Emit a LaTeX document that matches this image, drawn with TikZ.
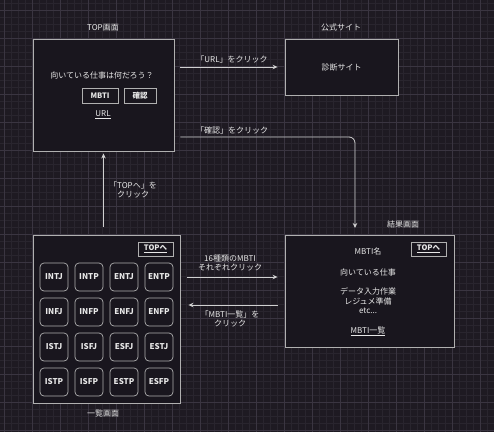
\documentclass[tikz,border=0pt]{standalone}
\usepackage{fontspec}
\setmainfont{Noto Sans CJK JP}
\usetikzlibrary{arrows.meta}
\definecolor{bgc}{HTML}{1E1A22}
\definecolor{minorc}{HTML}{29252E}
\definecolor{majorc}{HTML}{3A3541}
\definecolor{boxfill}{HTML}{19161E}
\definecolor{boxline}{HTML}{B0B0B0}
\definecolor{txt}{HTML}{E8E8E8}
\definecolor{connc}{HTML}{D0D0D0}
\begin{document}
\begin{tikzpicture}[x=1pt,y=-1pt,
  boxstyle/.style={draw=boxline, fill=boxfill, line width=0.9pt, inner sep=0pt},
  cellstyle/.style={draw=boxline, line width=0.7pt, rounded corners=4pt, minimum width=28pt, minimum height=28pt, inner sep=0pt, text=txt, font=\fontsize{8}{9.5}\selectfont\bfseries},
  btnstyle/.style={draw=boxline, line width=0.8pt, minimum height=14pt, inner sep=0pt, text=txt, font=\fontsize{7.5}{9}\selectfont\bfseries},
  lbl/.style={text=txt, inner sep=0pt, align=center, font=\fontsize{8}{9.6}\selectfont},
  conn/.style={draw=connc, line width=0.8pt, -{Stealth[length=5pt,width=4.5pt]}}
]
\useasboundingbox (0,0) rectangle (494,432);
\fill[bgc] (0,0) rectangle (494,432);
\foreach \x in {4,11,...,494} \draw[minorc, line width=0.4pt] (\x,0) -- (\x,432);
\foreach \y in {3,10,...,432} \draw[minorc, line width=0.4pt] (0,\y) -- (494,\y);
\foreach \x in {4,32,...,494} \draw[majorc, line width=0.5pt] (\x,0) -- (\x,432);
\foreach \y in {10,38,...,432} \draw[majorc, line width=0.5pt] (0,\y) -- (494,\y);

% boxes
\node[boxstyle, minimum width=141pt, minimum height=112pt] (top) at (103.5,95) {};
\node[boxstyle, minimum width=113pt, minimum height=56pt] (site) at (341.5,67) {};
\node[boxstyle, minimum width=169pt, minimum height=112pt] (result) at (369.5,291) {};
\node[boxstyle, minimum width=147pt, minimum height=168pt] (list) at (106.5,319) {};

% titles
\node[lbl] (ttop) at (103,28) {TOP画面};
\node[lbl] (tsite) at (341,27) {公式サイト};
\node[lbl] (tresult) at (403,224) {結果画面};
\node[lbl] (tlist) at (103,413) {一覧画面};

% top contents
\node[lbl] (q) at (102,75) {向いている仕事は何だろう？};
\node[btnstyle, minimum width=36pt, minimum height=15pt] (bmbti) at (100,95.5) {MBTI};
\node[btnstyle, minimum width=32pt, minimum height=15pt] (bkakunin) at (140,95.5) {確認};
\node[lbl] (url) at (103,115) {\underline{URL}};

% site contents
\node[lbl] (shindan) at (341.5,67) {診断サイト};

% result contents
\node[lbl] (mname) at (368,251) {MBTI名};
\node[btnstyle, minimum width=35pt] (rtop) at (428.5,249) {\underline{TOPへ}};
\node[lbl] (job) at (368,272) {向いている仕事};
\node[lbl] (jobs) at (368,301) {データ入力作業\\レジュメ準備\\etc...};
\node[lbl] (mlist) at (368,331) {\underline{MBTI一覧}};

% list contents
\node[btnstyle, minimum width=35pt] (ltop) at (155.5,249) {\underline{TOPへ}};
\foreach \t [count=\i from 0] in {INTJ,INTP,ENTJ,ENTP,INFJ,INFP,ENFJ,ENFP,ISTJ,ISFJ,ESFJ,ESTJ,ISTP,ISFP,ESTP,ESFP}{
  \pgfmathtruncatemacro{\c}{mod(\i,4)}
  \pgfmathtruncatemacro{\r}{div(\i,4)}
  \node[cellstyle] (cell\i) at (54+35*\c, 277+35*\r) {\t};
}

% connectors
\draw[conn, shorten <=6pt, shorten >=7pt] (top.east |- site.west) -- (site.west);
\node[lbl] (lurl) at (232,59) {「URL」をクリック};

\coordinate (kc) at (355,235);
\draw[conn, rounded corners=6pt, shorten <=6pt, shorten >=7pt] ([yshift=-42pt]top.east) -| (kc);
\node[lbl] (lkakunin) at (232,130) {「確認」をクリック};

\draw[conn, shorten <=8pt, shorten >=2pt] (list.north -| top.south) -- (top.south);
\node[lbl] (ltopl) at (133,190) {「TOPへ」を\\クリック};

\draw[conn, shorten <=7pt, shorten >=7pt] ([yshift=42pt]list.east) -- ([yshift=42pt]list.east -| result.west);
\node[lbl] (l16) at (230,263) {16種類のMBTI\\それぞれクリック};

\draw[conn, shorten <=7pt, shorten >=8pt] ([yshift=-14pt]result.west) -- ([yshift=-14pt]result.west -| list.east);
\node[lbl] (lback) at (230,319) {「MBTI一覧」を\\クリック};
\end{tikzpicture}
\end{document}
